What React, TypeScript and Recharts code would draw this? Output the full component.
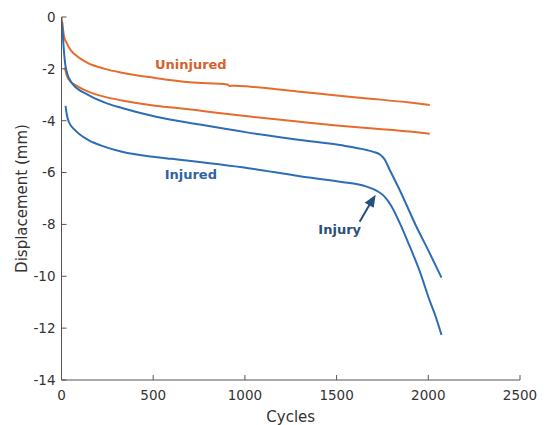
import { LineChart, Line, XAxis, YAxis, ReferenceDot } from 'recharts';

// cycles / displacement (mm)
const uninjuredAX = [0, 6, 14, 28, 50, 74, 145, 237, 330, 510, 700, 905, 915, 945, 1030, 1300, 1500, 1700, 1900, 2008];
const uninjuredAY = [0, -0.35, -0.75, -1.0, -1.28, -1.45, -1.78, -2.0, -2.15, -2.35, -2.52, -2.6, -2.66, -2.65, -2.69, -2.88, -3.03, -3.16, -3.3, -3.39];

const uninjuredBX = [18, 28, 50, 74, 145, 237, 330, 510, 620, 800, 1027, 1300, 1500, 1700, 1900, 2008];
const uninjuredBY = [-1.95, -2.24, -2.5, -2.62, -2.88, -3.08, -3.22, -3.42, -3.5, -3.65, -3.84, -4.04, -4.18, -4.3, -4.42, -4.5];

const injuredAX = [3, 10, 20, 28, 57, 145, 237, 330, 510, 755, 1010, 1300, 1517, 1664, 1700, 1735, 1760, 1790, 1844, 1936, 2000, 2072];
const injuredAY = [-0.2, -1.0, -1.8, -2.1, -2.55, -3.0, -3.3, -3.51, -3.84, -4.15, -4.45, -4.74, -4.94, -5.13, -5.2, -5.3, -5.47, -5.9, -6.67, -8.1, -9.0, -10.05];

const injuredBX = [22, 30, 40, 74, 145, 237, 330, 510, 600, 1020, 1300, 1517, 1664, 1697, 1730, 1760, 1795, 1844, 1899, 1953, 2008, 2040, 2072];
const injuredBY = [-3.43, -3.8, -4.05, -4.36, -4.74, -5.01, -5.2, -5.4, -5.47, -5.83, -6.14, -6.35, -6.54, -6.63, -6.75, -6.92, -7.25, -7.94, -8.85, -9.8, -10.95, -11.55, -12.26];

const xTicks = [0, 500, 1000, 1500, 2000, 2500];
const yTicks = [-14, -12, -10, -8, -6, -4, -2, 0];

const ORANGE = '#E66B2C';
const BLUE = '#2D6DB5';
const AXIS = '#555';
const FONT = 'DejaVu Sans, Verdana, sans-serif';

const toPoints = (xs: number[], ys: number[]) => xs.map((x, i) => ({ x, y: ys[i] }));

// tick marks point inward, like the original
const XTick = ({ x, y, payload }: any) => (
  <g>
    <line x1={x} y1={y - 10} x2={x} y2={y - 15} stroke={AXIS} strokeWidth={1} />
    <text x={x} y={y + 10} textAnchor="middle" fontSize={13.5} fill="#333" fontFamily={FONT}>
      {payload.value}
    </text>
  </g>
);

const YTick = ({ x, y, payload }: any) => (
  <g>
    <line x1={x + 6} y1={y} x2={x + 11} y2={y} stroke={AXIS} strokeWidth={1} />
    <text x={x} y={y} dy="0.36em" textAnchor="end" fontSize={13.5} fill="#333" fontFamily={FONT}>
      {payload.value}
    </text>
  </g>
);

const note = (text: string, color: string) => (props: any) => (
  <text x={props.cx} y={props.cy} dy="0.36em" textAnchor="middle" fontSize={13} fontWeight="bold" fill={color} fontFamily={FONT}>
    {text}
  </text>
);

const Arrow = ({ cx, cy }: any) => (
  <g>
    <line x1={cx - 16} y1={cy + 27} x2={cx - 5} y2={cy + 8} stroke="#24507F" strokeWidth={2} />
    <polygon points={`${cx},${cy} ${cx - 11},${cy + 8} ${cx - 2},${cy + 13}`} fill="#24507F" />
  </g>
);

export default function App() {
  return (
    <div style={{ position: 'absolute', left: 0, top: 0, background: '#fff' }}>
      <LineChart width={547} height={425} margin={{ top: 17, right: 27, bottom: 15, left: 0 }}>
        <XAxis
          dataKey="x"
          type="number"
          domain={[0, 2500]}
          ticks={xTicks}
          height={30}
          tickSize={0}
          tickMargin={10}
          tick={<XTick />}
          stroke={AXIS}
          allowDataOverflow
          label={{ value: 'Cycles', position: 'insideBottom', offset: -12, fontSize: 15, fill: '#333', fontFamily: FONT }}
        />
        <YAxis
          dataKey="y"
          type="number"
          domain={[-14, 0]}
          ticks={yTicks}
          width={61.5}
          tickSize={0}
          tickMargin={6}
          tick={<YTick />}
          stroke={AXIS}
          allowDataOverflow
          label={{
            content: ({ viewBox }: any) => (
              <text
                x={22}
                y={viewBox.y + viewBox.height / 2}
                transform={`rotate(-90, 22, ${viewBox.y + viewBox.height / 2})`}
                textAnchor="middle"
                dominantBaseline="central"
                fontSize={15}
                fill="#333"
                fontFamily={FONT}
              >
                Displacement (mm)
              </text>
            ),
          }}
        />
        <Line data={toPoints(uninjuredAX, uninjuredAY)} dataKey="y" type="monotone" stroke={ORANGE} strokeWidth={2} dot={false} isAnimationActive={false} />
        <Line data={toPoints(uninjuredBX, uninjuredBY)} dataKey="y" type="monotone" stroke={ORANGE} strokeWidth={2} dot={false} isAnimationActive={false} />
        <Line data={toPoints(injuredAX, injuredAY)} dataKey="y" type="monotone" stroke={BLUE} strokeWidth={2} dot={false} isAnimationActive={false} />
        <Line data={toPoints(injuredBX, injuredBY)} dataKey="y" type="monotone" stroke={BLUE} strokeWidth={2} dot={false} isAnimationActive={false} />
        <ReferenceDot x={705} y={-1.81} r={0} shape={note('Uninjured', '#D4622A')} />
        <ReferenceDot x={705} y={-6.05} r={0} shape={note('Injured', '#2E62A3')} />
        <ReferenceDot x={1517} y={-8.18} r={0} shape={note('Injury', '#2A4F7A')} />
        <ReferenceDot x={1713} y={-6.86} r={0} shape={<Arrow />} />
      </LineChart>
    </div>
  );
}
